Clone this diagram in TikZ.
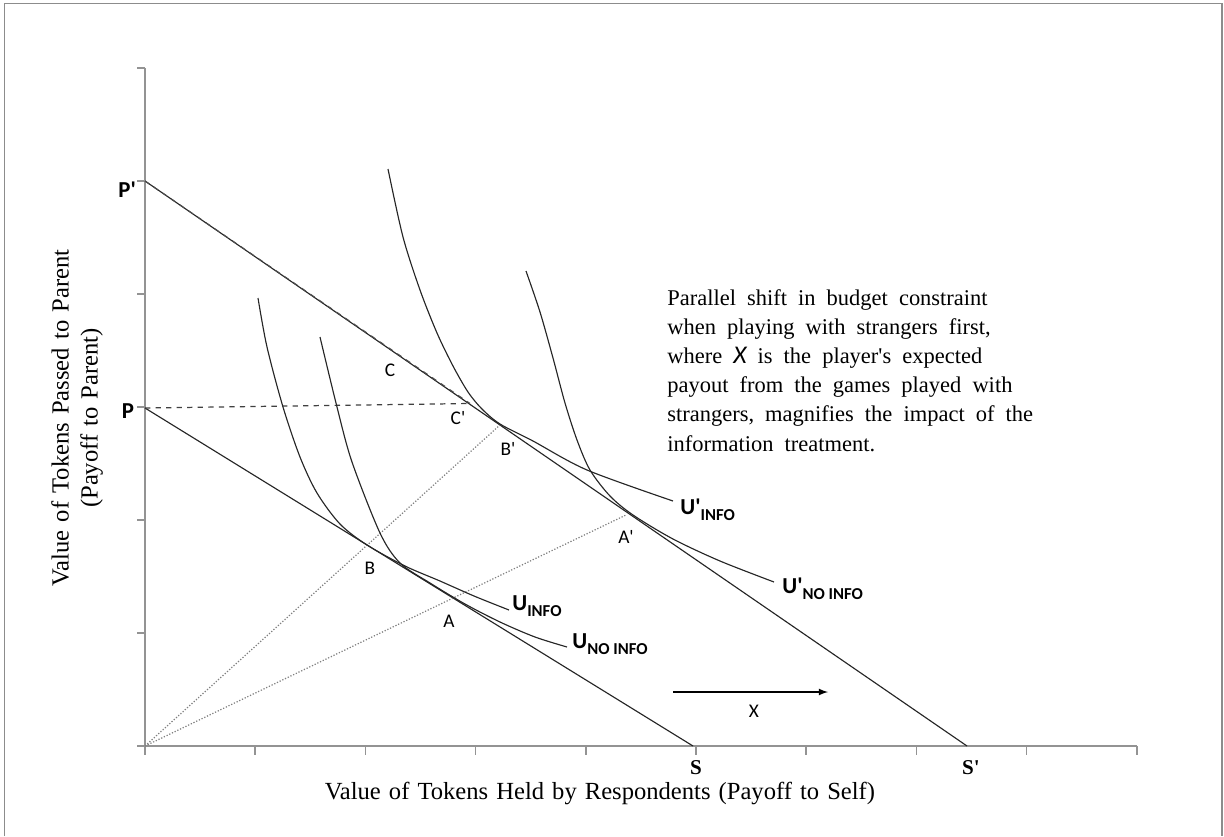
\documentclass[tikz,border=0pt]{standalone}
\usepackage{fontspec}
\setmainfont{Liberation Serif}
\newfontfamily\calfont{Carlito}
\usetikzlibrary{positioning}
\newcommand{\titlesp}{\spaceskip 4.6pt plus 1pt\relax}
\newcommand{\notesp}{\spaceskip 6.3pt plus 1pt\relax}
\tikzset{axis line/.style={draw=gray!85,line width=0.85pt},
  budget line/.style={draw=black!85,line width=0.65pt},
  pref curve/.style={draw=black!85,line width=0.65pt},
  ray line/.style={draw=gray,densely dotted,line width=0.7pt},
  pt label/.style={font=\calfont\fontsize{11}{13}\selectfont,inner sep=0pt},
  end label/.style={font=\calfont\bfseries\fontsize{13}{15}\selectfont,inner sep=0pt},
  u label/.style={font=\calfont\bfseries\fontsize{13}{15}\selectfont,inner sep=0pt,anchor=west},
  title text/.style={font=\fontsize{14}{16.5}\selectfont\titlesp} }
\newcommand{\subinfo}[1]{\raisebox{-0.55ex}{\fontsize{9.5}{10}\selectfont #1}}

\begin{document}
\begin{tikzpicture}[x=0.02cm,y=-0.02cm]
  \useasboundingbox (0,0) rectangle (1224,836);
  % frame
  \draw[gray!90,line width=0.8pt] (4.5,836) -- (4.5,3.5) -- (1222,3.5) -- (1222,836);

  % axes
  \coordinate (O) at (145,746);
  \coordinate (xend) at (1137,746);
  \coordinate (ytop) at (145,68);
  \draw[axis line] (ytop) -- (O) -- (xend);
  \foreach \i in {0,...,9}
    \draw[axis line] (145+110.2*\i,746) -- (145+110.2*\i,755);
  \foreach \j in {0,...,6}
    \draw[axis line] (137,746-113*\j) -- (145,746-113*\j);

  % end points of the budget lines
  \coordinate (Pp) at (145,181);
  \coordinate (P) at (145,408);
  \coordinate (S) at (693,746);
  \coordinate (Sp) at (967,746);
  \coordinate (Cs) at (470,403.5);
  \coordinate (Bp) at (500,425);
  \coordinate (Ap) at (626,515);

  \node[end label, left=5pt of Pp, yshift=-5pt] (lPp) {P\textquotesingle};
  \node[end label, left=6pt of P, yshift=-2pt] (lP) {P};
  \node[font=\bfseries\fontsize{12}{14}\selectfont] (lS) at (696,768) {S};
  \node[font=\bfseries\fontsize{12}{14}\selectfont] (lSp) at (971,768) {S\textquotesingle};

  % budget lines
  \draw[budget line] (P) -- (S);
  \draw[budget line] (Pp) -- (Sp);
  \draw[budget line,dashed,draw=black!70] (Pp) -- (Cs);
  \draw[dashed,draw=black!75,line width=0.7pt] (P) -- (Cs);

  % rays from the origin
  \draw[ray line] (O) -- (Bp);
  \draw[ray line] (O) -- (Ap);

  % indifference curves
  \draw[pref curve] plot[smooth] coordinates {(258,298) (267,347) (283,407) (300,457) (317,493) (340,524) (367,545) (405,566) (440,581) (474,596) (509,610)};
  \draw[pref curve] plot[smooth] coordinates {(320,337) (337,407) (352,462) (380,533) (400,563) (430,583) (465,604) (500,622) (535,637) (567,647)};
  \draw[pref curve] plot[smooth] coordinates {(388,169) (403,237) (420,290) (437,333) (453,366) (468,392) (482,409) (500,424) (533,441) (587,470) (673,501)};
  \draw[pref curve] plot[smooth] coordinates {(526,271) (540,312) (553,358) (565,403) (577,440) (590,470) (610,496) (633,515) (673,539) (720,561) (774,582)};

  \node[u label] (uinfo) at (512,606) {U\subinfo{INFO}};
  \node[u label] (unoinfo) at (572,644) {U\subinfo{NO INFO}};
  \node[u label] (upinfo) at (680,510) {U\textquotesingle\subinfo{INFO}};
  \node[u label] (upnoinfo) at (782,589) {U\textquotesingle\subinfo{NO INFO}};

  % point labels
  \node[pt label] (lC) at (390,370) {C};
  \node[pt label] (lCp) at (458,418) {C\textquotesingle};
  \node[pt label] (lBp) at (508,449) {B\textquotesingle};
  \node[pt label] (lB) at (370,568) {B};
  \node[pt label] (lA) at (449,621) {A};
  \node[pt label] (lAp) at (626,537) {A\textquotesingle};

  % shift
  \coordinate (xa) at (673,692);
  \coordinate (xb) at (828,692);
  \draw[-latex,line width=0.8pt] (xa) -- (xb);
  \node[pt label] (lX) at (754,711) {X};

  \node[anchor=north west,align=left,inner sep=0pt,
        font=\fontsize{12.8}{16.6}\selectfont\notesp] (note) at (667,289)
    {Parallel shift in budget constraint\\
     when playing with strangers first,\\
     where {\calfont\itshape\fontsize{14.5}{14}\selectfont X} is the player\textquotesingle s expected\\
     payout from the games played with\\
     strangers, magnifies the impact of the\\
     information treatment.};

  % axis titles
  \node[title text] (xtitle) at (600,793)
    {Value of Tokens Held by Respondents (Payoff to Self)};
  \node[rotate=90,align=center,title text] (ytitle) at (77,418)
    {Value of Tokens Passed to Parent\\(Payoff to Parent)};
\end{tikzpicture}
\end{document}
